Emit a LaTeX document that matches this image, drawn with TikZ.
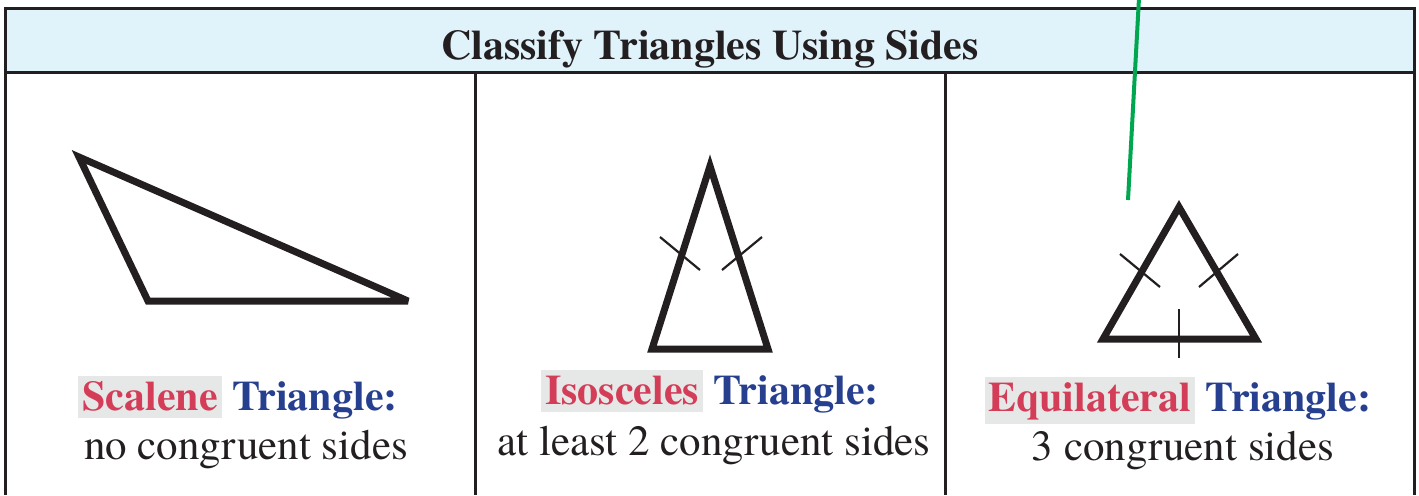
\documentclass[tikz,border=0pt]{standalone}
\usepackage{fontspec}
\setmainfont{texgyretermes}[Extension=.otf,UprightFont=*-regular,BoldFont=*-bold,ItalicFont=*-italic,BoldItalicFont=*-bolditalic]
\definecolor{hdr}{HTML}{E0F3FA}
\definecolor{wred}{HTML}{D43D57}
\definecolor{wblue}{HTML}{26408F}
\definecolor{hl}{HTML}{E6E8E8}
\definecolor{grn}{HTML}{00A650}
\definecolor{ink}{HTML}{231F20}
\newcommand\hlword[1]{{\setlength\fboxsep{2pt}\colorbox{hl}{\rule[-2pt]{0pt}{17pt}\textcolor{wred}{#1}}}}
\begin{document}
\begin{tikzpicture}[x=0.5pt,y=-0.5pt,
  frame/.style={draw=ink,line width=1.5pt},
  tri/.style={draw=ink,line width=3.5pt,line join=miter,miter limit=3.5},
  tick/.style={draw=ink,line width=1.1pt},
  head/.style={font=\rmfamily\bfseries\fontsize{21}{25}\selectfont,text=ink,anchor=base,inner sep=0pt},
  lab/.style={font=\rmfamily\bfseries\fontsize{21}{25}\selectfont,text=wblue,anchor=base,inner sep=0pt},
  desc/.style={font=\rmfamily\fontsize{21.5}{26}\selectfont,text=ink,anchor=base,inner sep=0pt}]
\useasboundingbox (0,0) rectangle (1419,495);
% frame
\fill[hdr] (5,8) rectangle (1414,72);
\draw[frame] (5,495) -- (5,8) -- (1414,8) -- (1414,495);
\draw[frame] (5,72) -- (1414,72);
\draw[frame] (475,72) -- (475,495);
\draw[frame] (945,72) -- (945,495);
\node[head] (title) at (710,59) {Classify Triangles Using Sides};
% scalene
\draw[tri] (79,157) -- (148,301) -- (408,301) -- cycle;
\node[lab] (s1) at (238,410) {\hlword{Scalene} Triangle:};
\node[desc] (s2) at (246,459) {no congruent sides};
% isosceles
\draw[tri] (710,166) -- (768,349) -- (652,349) -- cycle;
\draw[tick] (660,237) -- (700,270);
\draw[tick] (722,270) -- (762,237);
\node[lab] (i1) at (710,404) {\hlword{Isosceles} Triangle:};
\node[desc] (i2) at (714,455) {at least 2 congruent sides};
% equilateral
\draw[tri] (1179,207) -- (1256,339) -- (1103,339) -- cycle;
\draw[tick] (1120,254) -- (1160,287);
\draw[tick] (1199,287) -- (1238,254);
\draw[tick] (1179,309) -- (1179,358);
\node[lab] (e1) at (1178,411) {\hlword{Equilateral} Triangle:};
\node[desc] (e2) at (1183,460) {3 congruent sides};
% green line
\coordinate (g1) at (1139,-2);
\coordinate (g2) at (1128,200);
\draw[grn,line width=2pt] (g1) -- (g2);
\end{tikzpicture}
\end{document}
